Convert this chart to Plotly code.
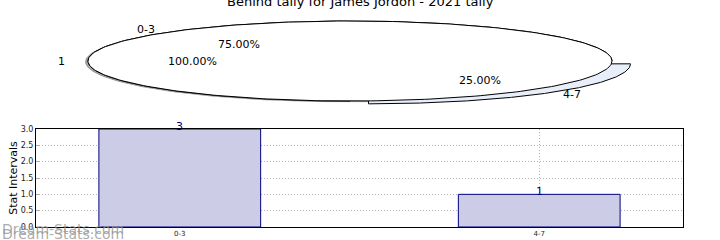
import numpy as np
import plotly.graph_objects as go

title = "Behind tally for James Jordon - 2021 tally"
categories = ["0-3", "4-7"]
values = [3, 1]
inner_labels = ["1"]
inner_values = [1]
explode = [0.0, 0.1]
y_ticks = [0.0, 0.5, 1.0, 1.5, 2.0, 2.5, 3.0]

FONT = "DejaVu Sans"
CX, CY, RA, RB = 350.0, 61.0, 262.0, 40.0  # ellipse geometry (pixel-like units)

fig = go.Figure()


def wedge(t0, t1, dx=0.0, dy=0.0, full=False):
    th = np.radians(np.linspace(t0, t1, 300))
    xs = CX + dx + RA * np.cos(th)
    ys = CY + dy - RB * np.sin(th)
    if not full:
        xs = np.concatenate([[CX + dx], xs, [CX + dx]])
        ys = np.concatenate([[CY + dy], ys, [CY + dy]])
    return xs, ys


def pt(theta, r, e=0.0):
    t = np.radians(theta)
    ex, ey = e * RA * np.cos(t), -e * RB * np.sin(t)
    return CX + ex + r * RA * np.cos(t), CY + ey - r * RB * np.sin(t)


# shadow
xs, ys = wedge(0, 360, -2.5, 0.8, full=True)
fig.add_trace(go.Scatter(x=xs, y=ys, mode="lines", fill="toself", fillcolor="rgba(130,130,130,0.7)",
                         line=dict(color="rgba(130,130,130,0.7)", width=1), hoverinfo="skip", showlegend=False))

total = sum(values)
start = 0.0
pie_colors = ["#ffffff", "#e8eefa"]
annots = []
for lab, v, e, c in zip(categories, values, explode, pie_colors):
    span = 360.0 * v / total
    mid = start + span / 2
    ex, ey = e * RA * np.cos(np.radians(mid)), -e * RB * np.sin(np.radians(mid))
    xs, ys = wedge(start, start + span, ex, ey)
    fig.add_trace(go.Scatter(x=xs, y=ys, mode="lines", fill="toself", fillcolor=c,
                             line=dict(color="black", width=1), hoverinfo="skip", showlegend=False))
    lx, ly = pt(mid, 1.1, e)
    px, py = pt(mid, 0.6, e)
    annots.append(dict(x=lx, y=ly, text=lab))
    annots.append(dict(x=px, y=py, text=f"{100.0 * v / total:.2f}%"))
    start += span

# inner full ellipse ("1", 100%)
itotal = sum(inner_values)
start = 0.0
for lab, v in zip(inner_labels, inner_values):
    span = 360.0 * v / itotal
    mid = start + span / 2
    xs, ys = wedge(start, start + span, full=True)
    fig.add_trace(go.Scatter(x=xs, y=ys, mode="lines", fill="toself", fillcolor="white",
                             line=dict(color="black", width=1), hoverinfo="skip", showlegend=False))
    lx, ly = pt(mid, 1.1)
    px, py = pt(mid, 0.6)
    annots.append(dict(x=lx, y=ly, text=lab))
    annots.append(dict(x=px, y=py, text=f"{100.0 * v / itotal:.2f}%"))
    start += span

annotations = []
for a in annots:
    annotations.append(dict(x=a["x"], y=a["y"], xref="x", yref="y", text=a["text"], showarrow=False,
                            font=dict(family=FONT, size=11, color="black"), xanchor="center", yanchor="middle"))

annotations.append(dict(x=360, y=1, xref="x", yref="y", text=title, showarrow=False,
                        font=dict(family=FONT, size=13, color="black"), xanchor="center", yanchor="middle"))

# bars
fig.add_trace(go.Bar(x=categories, y=values, xaxis="x2", yaxis="y2", width=0.45,
                     marker=dict(color="#ccccE6", line=dict(color="#000080", width=1)),
                     hoverinfo="skip", showlegend=False))
for c, v in zip(categories, values):
    annotations.append(dict(x=c, y=v, xref="x2", yref="y2", text=str(v), showarrow=False,
                            font=dict(family=FONT, size=11, color="#000080"), xanchor="center",
                            yanchor="bottom", yshift=-6))

# watermark
for yy in [229, 233.5]:
    annotations.append(dict(x=0.0, y=1 - yy / 240, xref="paper", yref="paper", text="Dream-Stats.com",
                            showarrow=False,
                            font=dict(family=FONT, size=14, color="rgba(150,150,150,0.8)"),
                            xanchor="left", yanchor="middle"))

fig.update_layout(
    width=720, height=240, margin=dict(l=0, r=0, t=0, b=0),
    paper_bgcolor="white", plot_bgcolor="rgba(0,0,0,0)",
    xaxis=dict(domain=[0, 1], range=[0, 720], visible=False, fixedrange=True, automargin=False),
    yaxis=dict(domain=[0.5, 1], range=[120, 0], visible=False, fixedrange=True, automargin=False),
    xaxis2=dict(domain=[36 / 720, 683 / 720], range=[-0.4, 1.4], anchor="y2", type="category",
                showline=True, linecolor="black", linewidth=1, mirror=True, automargin=False,
                showgrid=True, gridcolor="#b4b4b4", griddash="1px,2px", gridwidth=1, layer="above traces",
                ticks="", tickfont=dict(family=FONT, size=7, color="#222")),
    yaxis2=dict(domain=[13 / 240, 111 / 240], range=[0, 3], anchor="x2", automargin=False,
                tickvals=y_ticks, ticktext=[f"{t:.1f}" for t in y_ticks],
                showline=True, linecolor="black", linewidth=1, mirror=True, layer="above traces",
                showgrid=True, gridcolor="#b4b4b4", griddash="1px,2px", gridwidth=1,
                ticks="inside", ticklen=3, tickcolor="#aaa", zeroline=False,
                tickfont=dict(family=FONT, size=8, color="#222"),
                title=dict(text="Stat Intervals", font=dict(family=FONT, size=11, color="black"), standoff=0)),
    annotations=annotations,
)

fig.write_html("out.html")
